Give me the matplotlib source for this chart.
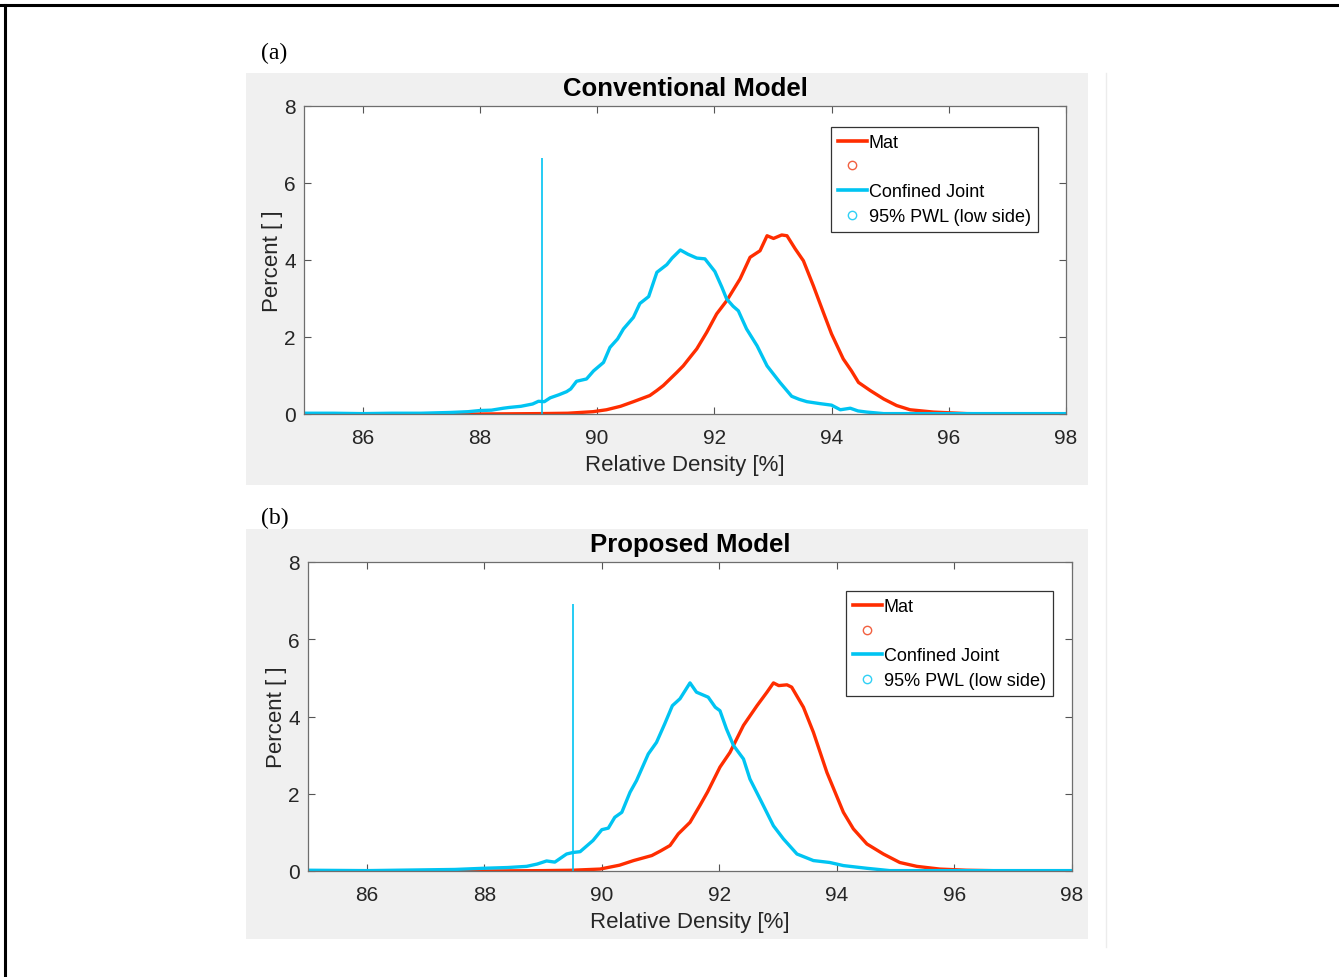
"""
Relative density distributions, conventional vs proposed model
"""
import matplotlib
matplotlib.use("Agg")
import matplotlib.pyplot as plt
from matplotlib.lines import Line2D
from matplotlib.patches import Rectangle

# --- data ---
conv_joint_x = [85.0, 85.5, 86.0, 86.5, 87.0, 87.5, 87.8, 88.0, 88.2, 88.4, 88.5, 88.7, 88.9, 89.0,
                89.1, 89.2, 89.35, 89.48, 89.55, 89.65, 89.82, 89.94, 90.11, 90.22, 90.35, 90.45,
                90.62, 90.73, 90.88, 91.02, 91.19, 91.28, 91.42, 91.55, 91.7, 91.84, 92.01, 92.13,
                92.21, 92.32, 92.41, 92.55, 92.73, 92.9, 93.12, 93.32, 93.45, 93.58, 93.8, 94.0,
                94.15, 94.32, 94.45, 94.6, 94.89, 95.5, 96.0, 97.0, 98.0]
conv_joint_y = [0.02, 0.02, 0.01, 0.02, 0.02, 0.04, 0.06, 0.09, 0.10, 0.15, 0.17, 0.20, 0.26, 0.33,
                0.32, 0.42, 0.50, 0.58, 0.65, 0.85, 0.91, 1.12, 1.34, 1.73, 1.95, 2.21,
                2.51, 2.87, 3.05, 3.68, 3.88, 4.05, 4.26, 4.15, 4.05, 4.03, 3.70, 3.29,
                2.99, 2.80, 2.68, 2.21, 1.77, 1.25, 0.82, 0.46, 0.38, 0.32, 0.27, 0.23,
                0.11, 0.15, 0.08, 0.05, 0.01, 0.01, 0.01, 0.01, 0.01]

conv_mat_x = [85.0, 88.0, 89.0, 89.5, 89.93, 90.16, 90.4, 90.62, 90.9, 91.02, 91.13, 91.36, 91.47,
              91.6, 91.7, 91.87, 92.04, 92.21, 92.44, 92.61, 92.78, 92.9, 93.01, 93.15, 93.24,
              93.38, 93.52, 93.69, 93.86, 94.0, 94.2, 94.34, 94.46, 94.66, 94.89, 95.11, 95.34,
              95.74, 96.31, 97.0, 98.0]
conv_mat_y = [0.0, 0.0, 0.01, 0.02, 0.06, 0.11, 0.20, 0.32, 0.48, 0.61, 0.74, 1.08, 1.25,
              1.50, 1.69, 2.12, 2.60, 2.94, 3.51, 4.07, 4.24, 4.63, 4.56, 4.65, 4.63,
              4.29, 3.98, 3.33, 2.64, 2.08, 1.43, 1.12, 0.82, 0.61, 0.39, 0.22, 0.11,
              0.05, 0.01, 0.0, 0.0]

prop_joint_x = [85.0, 86.0, 87.0, 87.5, 87.98, 88.4, 88.72, 88.9, 89.06, 89.2, 89.4, 89.51, 89.63,
                89.85, 90.0, 90.11, 90.22, 90.34, 90.48, 90.59, 90.79, 90.93, 91.07, 91.2, 91.33,
                91.5, 91.61, 91.81, 91.93, 92.01, 92.12, 92.24, 92.41, 92.52, 92.69, 92.92, 93.09,
                93.32, 93.6, 93.88, 94.11, 94.51, 94.9, 96.0, 98.0]
prop_joint_y = [0.02, 0.01, 0.03, 0.04, 0.07, 0.09, 0.12, 0.18, 0.26, 0.23, 0.44, 0.48, 0.50,
                0.79, 1.07, 1.11, 1.39, 1.52, 2.04, 2.34, 3.03, 3.33, 3.81, 4.28, 4.46,
                4.87, 4.63, 4.50, 4.24, 4.15, 3.68, 3.25, 2.90, 2.38, 1.87, 1.17, 0.83,
                0.44, 0.27, 0.22, 0.14, 0.07, 0.01, 0.01, 0.01]

prop_mat_x = [85.0, 88.0, 89.0, 89.5, 89.97, 90.3, 90.54, 90.85, 91.0, 91.16, 91.3, 91.5, 91.67,
              91.8, 92.01, 92.18, 92.41, 92.64, 92.81, 92.92, 93.01, 93.15, 93.23, 93.43, 93.6,
              93.83, 94.11, 94.28, 94.51, 94.79, 95.07, 95.36, 95.75, 96.2, 97.0, 98.0]
prop_mat_y = [0.0, 0.0, 0.01, 0.02, 0.05, 0.15, 0.27, 0.40, 0.52, 0.66, 0.96, 1.26, 1.70,
              2.05, 2.69, 3.07, 3.77, 4.28, 4.63, 4.87, 4.80, 4.82, 4.76, 4.24, 3.59,
              2.55, 1.52, 1.09, 0.70, 0.44, 0.22, 0.12, 0.05, 0.02, 0.0, 0.0]

pwl_x = [89.06, 89.51]        # 95% PWL (low side) of the joint
pwl_top = [6.65, 6.92]

titles = ['Conventional Model', 'Proposed Model']
panel_tags = ['(a)', '(b)']
legend_labels = ['Mat', '', 'Confined Joint', '95% PWL (low side)']
x_ticks = [86, 88, 90, 92, 94, 96, 98]
y_ticks = [0, 2, 4, 6, 8]

RED = '#ff2d00'
BLUE = '#00c4f2'
W, H = 1339, 978

plt.rcParams['font.family'] = ['Liberation Sans', 'DejaVu Sans']

fig = plt.figure(figsize=(W / 100, H / 100), dpi=100)


def fx(px):
    return px / W


def fy(py):
    return 1 - py / H


# page frame (top and left rules) and faint divider
fig.add_artist(Line2D([0, 1], [fy(6), fy(6)], color='black', lw=2.2))
fig.add_artist(Line2D([fx(5), fx(5)], [0, fy(6)], color='black', lw=2.2))
fig.add_artist(Line2D([fx(1106), fx(1106)], [fy(948), fy(74)], color='#ececec', lw=1))

# pixel boxes: gray panel (x0, y0, x1, y1) and axes (x0, y0, x1, y1)
panels = [(246, 74, 1088, 486), (246, 530, 1088, 940)]
axboxes = [(304, 107, 1066, 415), (308, 563, 1072, 872)]
tag_pos = [(261, 53), (261, 518)]
leg_anchor = [(0.963, 0.932), (0.975, 0.906)]

datasets = [(conv_mat_x, conv_mat_y, conv_joint_x, conv_joint_y),
            (prop_mat_x, prop_mat_y, prop_joint_x, prop_joint_y)]

for i in range(2):
    px0, py0, px1, py1 = panels[i]
    fig.add_artist(Rectangle((fx(px0), fy(py1)), fx(px1 - px0), (py1 - py0) / H,
                             transform=fig.transFigure, facecolor='#f0f0f0',
                             edgecolor='none', zorder=0))
    fig.text(fx(tag_pos[i][0]), fy(tag_pos[i][1]), panel_tags[i], family='Liberation Serif',
             fontsize=17, ha='left', va='center')

    ax0, ay0, ax1, ay1 = axboxes[i]
    ax = fig.add_axes([fx(ax0), fy(ay1), fx(ax1 - ax0), (ay1 - ay0) / H])
    ax.set_facecolor('white')

    mx, my, jx, jy = datasets[i]
    ax.plot(mx, my, color=RED, lw=2.4, solid_joinstyle='round')
    ax.plot(jx, jy, color=BLUE, lw=2.4, solid_joinstyle='round')
    ax.vlines(pwl_x[i], 0, pwl_top[i], color=BLUE, lw=1.2)

    ax.set_xlim(85, 98)
    ax.set_ylim(0, 8)
    ax.set_xticks(x_ticks)
    ax.set_yticks(y_ticks)
    ax.tick_params(direction='in', top=True, right=True, length=5, width=0.8,
                   color='#555555', labelcolor='#262626', labelsize=15)
    ax.tick_params(axis='x', pad=10)
    ax.tick_params(axis='y', pad=6)
    for s in ax.spines.values():
        s.set_color('#6e6e6e')
        s.set_linewidth(0.9)

    ax.set_title(titles[i], fontsize=18.5, fontweight='bold', pad=8)
    ax.set_xlabel('Relative Density [%]', fontsize=16, color='#262626', labelpad=5)
    ax.set_ylabel('Percent [ ]', fontsize=16, color='#262626', labelpad=1)

    handles = [Line2D([], [], color=RED, lw=2.6),
               Line2D([], [], ls='none', marker='o', mfc='none', mec='#f26040', ms=6, mew=1),
               Line2D([], [], color=BLUE, lw=2.6),
               Line2D([], [], ls='none', marker='o', mfc='none', mec='#30d0f5', ms=6, mew=1)]
    leg = ax.legend(handles, legend_labels, loc='upper right', bbox_to_anchor=leg_anchor[i],
                    borderaxespad=0, fontsize=13, frameon=True, fancybox=False,
                    handlelength=1.6, handletextpad=0.1, labelspacing=0.42,
                    borderpad=0.4, framealpha=1)
    leg.get_frame().set_edgecolor('#333333')
    leg.get_frame().set_linewidth(0.9)

fig.savefig('out.png', dpi=100)
